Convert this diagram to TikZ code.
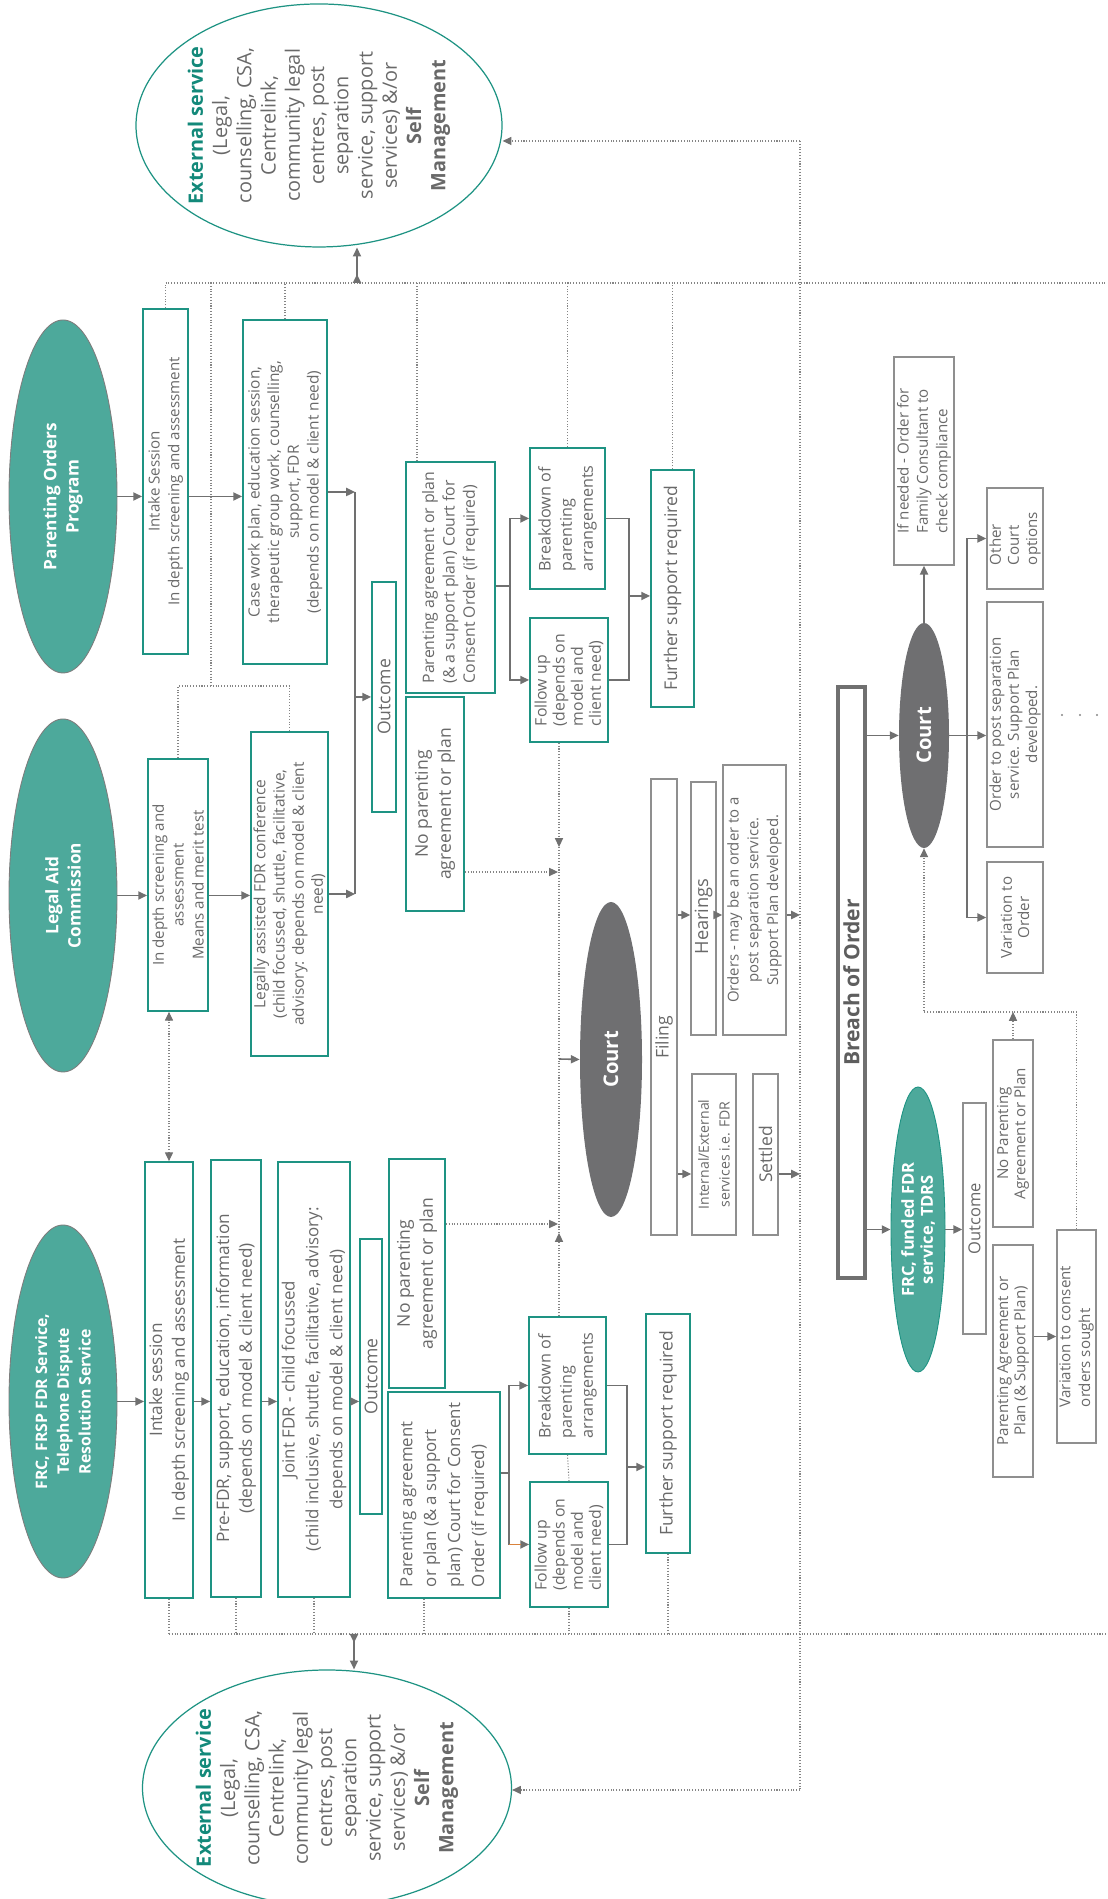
\documentclass[tikz,border=0pt]{standalone}
\usepackage{fontspec}
\setmainfont{Open Sans}
\usetikzlibrary{shapes.geometric, arrows.meta}

\definecolor{tealline}{HTML}{1E9383}
\definecolor{tealfill}{HTML}{4DA99B}
\definecolor{tealtext}{HTML}{13897A}
\definecolor{txtgray}{HTML}{696969}
\definecolor{linegray}{HTML}{707070}
\definecolor{dotgray}{HTML}{858585}
\definecolor{boxgray}{HTML}{8F8F8F}
\definecolor{courtgray}{HTML}{6F6F71}
\definecolor{rimgray}{HTML}{7D7D7D}
\definecolor{breachgray}{HTML}{5E5E5E}
\definecolor{slip}{HTML}{D9823B}

\tikzset{
  >={Triangle[length=5pt,width=4.6pt,color=linegray]},
  dims/.style args={#1x#2}{minimum width=#1*0.02cm, minimum height=#2*0.02cm},
  fs/.style 2 args={font=\fontsize{#1}{#2}\selectfont},
  tbox/.style={draw=tealline, line width=1pt, text=txtgray, align=center, inner sep=0pt},
  gbox/.style={tbox, draw=boxgray, line width=0.9pt},
  svc/.style={ellipse, fill=tealfill, draw=rimgray, line width=0.5pt, text=white, align=center,
    inner sep=0pt, dims=353x108, font=\bfseries\fontsize{9.8}{12.6}\selectfont},
  extsvc/.style={ellipse, draw=tealline, line width=0.7pt, text=txtgray, align=center,
    inner sep=-16pt, fs={11.3}{13.8}},
  courtell/.style={ellipse, fill=courtgray, text=white, inner sep=0pt,
    font=\bfseries\fontsize{11.5}{14}\selectfont},
  conn/.style={draw=linegray, line width=0.9pt},
  arr/.style={conn, ->},
  dot/.style={draw=dotgray, densely dotted, line width=0.6pt},
  dotarr/.style={dot, ->},
}

\begin{document}
\begin{tikzpicture}[x=0.02cm, y=-0.02cm, rotate=90, transform shape]
\useasboundingbox (0,0) rectangle (1899,1107);

% outside services
\node[extsvc, dims=243x366] (exttop) at (1773.5,319) {\textcolor{tealtext}{\textbf{External service}}\\(Legal,\\counselling, CSA,\\Centrelink,\\community legal\\centres, post\\separation\\service, support\\services) \&/or\\\textbf{Self}\\\textbf{Management}};
\node[extsvc, dims=236x369] (extbot) at (111,327) {\textcolor{tealtext}{\textbf{External service}}\\(Legal,\\counselling, CSA,\\Centrelink,\\community legal\\centres, post\\separation\\service, support\\services) \&/or\\\textbf{Self}\\\textbf{Management}};

% entry services
\node[svc] (poell) at (1402.5,63) {Parenting Orders\\Program};
\node[svc] (lacell) at (1003.5,63) {Legal Aid\\Commission};
\node[svc, font=\bfseries\fontsize{9}{12.4}\selectfont] (frcell) at (497.5,63) {FRC, FRSP FDR Service,\\Telephone Dispute\\Resolution Service};

% intake
\node[tbox, dims=345x45, fs={8.6}{11.3}] (pointake) at (1417.5,165.5) {Intake Session\\In depth screening and assessment};
\node[tbox, dims=252x60, fs={8.6}{11.3}] (lacint) at (1014,178) {In depth screening and\\assessment\\Means and merit test};
\node[tbox, dims=436x48, fs={9.8}{13}] (frcint) at (519,169) {Intake session\\In depth screening and assessment};

% service work
\node[tbox, dims=344x84, fs={8.8}{11.2}] (pocase) at (1407,285) {Case work plan, education session,\\therapeutic group work, counselling,\\support, FDR\\(depends on model \& client need)};
\node[tbox, dims=324x77, fs={8.8}{10.9}] (lacfdr) at (1005,289.5) {Legally assisted FDR conference\\(child focussed, shuttle, facilitative,\\advisory: depends on model \& client\\need)};
\node[tbox, dims=437x50, fs={9.8}{13}] (frcpre) at (520.5,236) {Pre-FDR, support, education, information\\(depends on model \& client need)};
\node[tbox, dims=435x72, fs={9.6}{13.6}] (frcjoint) at (519.5,314) {Joint FDR - child focussed\\(child inclusive, shuttle, facilitative, advisory:\\depends on model \& client need)};

% outcomes
\node[tbox, dims=230x24, fs={10}{12}] (poout) at (1202,384) {Outcome};
\node[tbox, dims=275x22, fs={10}{12}] (frcout) at (522.5,371) {Outcome};
\node[tbox, dims=231x89, fs={9}{11.6}, align=left] (poagree) at (1321.5,450.5) {Parenting agreement or plan\\(\& a support plan) Court for\\Consent Order (if required)};
\node[tbox, dims=214x58, fs={10}{13}] (lacno) at (1095,435) {No parenting\\agreement or plan};
\node[tbox, dims=229x56, fs={10}{13}] (frcno) at (625.5,417) {No parenting\\agreement or plan};
\node[tbox, dims=206x112, fs={9.6}{13.6}, align=left] (frcagree) at (404,444) {Parenting agreement\\or plan (\& a support\\plan) Court for Consent\\Order (if required)};

\node[tbox, dims=141x75, fs={9.2}{12}, align=left] (pobreak) at (1380.5,567.5) {Breakdown of\\parenting\\arrangements};
\node[tbox, dims=124x78, fs={9}{10.3}, align=left] (pofollow) at (1219,569) {Follow up\\(depends on\\model and\\client need)};
\node[tbox, dims=237x43, fs={10}{12}] (pofurther) at (1310.5,672.5) {Further support required};
\node[tbox, dims=137x77, fs={9.2}{12}, align=left] (frcbreak) at (513.5,567.5) {Breakdown of\\parenting\\arrangements};
\node[tbox, dims=125x78, fs={9}{10.3}, align=left] (frcfollow) at (354.5,569) {Follow up\\(depends on\\model and\\client need)};
\node[tbox, dims=239x44, fs={10}{12}] (frcfurther) at (465.5,668) {Further support required};

% court
\node[courtell, dims=315x62] (court) at (839.5,611) {Court};
\node[gbox, dims=456x26, fs={10}{12}] (filing) at (892,664) {Filing\hspace*{1.22cm}};
\node[gbox, dims=253x25, fs={10.4}{12}] (hearings) at (990.5,703.5) {Hearings\hspace*{0.32cm}};
\node[gbox, dims=270x63, fs={8.5}{11.3}] (orders) at (999,754.5) {Orders - may be an order to a\\post separation service.\\Support Plan developed.};
\node[gbox, dims=161x44, fs={8}{11.9}] (internal) at (744.5,714) {Internal/External\\services i.e. FDR};
\node[gbox, dims=161x25, fs={10}{12}] (settled) at (744.5,765.5) {Settled};

% breach
\node[gbox, draw=linegray, line width=2.2pt, dims=591x27, text=breachgray, font=\bfseries\fontsize{12}{14}\selectfont] (breach) at (916.5,851.5) {Breach of Order};
\node[courtell, dims=225x50] (court2) at (1163.5,924) {Court};
\node[gbox, dims=208x60, fs={8.6}{11}, align=left] (ifneeded) at (1438,924) {If needed - Order for\\Family Consultant to\\check compliance};
\node[gbox, dims=101x56, fs={8.6}{10.3}, align=left] (other) at (1360.5,1015) {Other\\Court\\options};
\node[gbox, dims=245x56, fs={8.6}{10.3}] (orderpost) at (1174.5,1015) {Order to post separation\\service. Support Plan\\developed.};
\node[gbox, dims=111x56, fs={8.6}{9.8}] (variation) at (981.5,1015) {Variation to\\Order};
\node[svc, draw=tealline, dims=285x54, font=\bfseries\fontsize{9.4}{10.8}\selectfont] (frcfund) at (669.5,918) {FRC, funded FDR\\service, TDRS};
\node[gbox, dims=231x23, fs={9.4}{12}] (frcout2) at (680.5,974.5) {Outcome};
\node[gbox, dims=187x40, fs={8.6}{9.7}] (nopa) at (765.5,1013) {No Parenting\\Agreement or Plan};
\node[gbox, dims=232x40, fs={8.6}{9.7}] (paplan) at (538,1013) {Parenting Agreement or\\Plan (\& Support Plan)};
\node[gbox, dims=213x39, fs={8.6}{11.3}, align=left] (varcons) at (562.5,1076.5) {Variation to consent\\orders sought};

% junctions
\coordinate (ttrunk) at (1616,0);
\coordinate (ttrunkend) at (1616,1107);
\coordinate (btrunk) at (265,0);
\coordinate (btrunkend) at (265,1107);
\coordinate (tsv) at (1616,357);
\coordinate (bsv) at (265,354);
\coordinate (lacj) at (1213,211);
\coordinate (loopR) at (1758,800);
\coordinate (loopL) at (109,800);
\coordinate (obus) at (1200,355);
\coordinate (posplit) at (1313,510);
\coordinate (pomid) at (1303,629);
\coordinate (frcsplit) at (426,509);
\coordinate (frcmid) at (432,627);
\coordinate (cj) at (840,559);
\coordinate (cjtop) at (1052,559);
\coordinate (cjbot) at (666,559);
\coordinate (lacin) at (1027,558);
\coordinate (frcin) at (675,558);
\coordinate (courtrow) at (984,0);
\coordinate (setrow) at (725,0);
\coordinate (optj) at (1163.5,967);
\coordinate (varj) at (887,1076.5);

% dotted links to outside services
\draw[dot] (pointake.east -| ttrunk) -- (ttrunkend);
\draw[dot] (frcint.west -| btrunk) -- (btrunkend);
\draw[{>}-{>}, conn] (tsv) -- (exttop.west |- tsv);
\draw[{>}-{>}, conn] (bsv) -- (extbot.east |- bsv);
\draw[dot] (pointake.east) -- (pointake.east -| ttrunk);
\draw[dot] (pocase.east) -- (pocase.east -| ttrunk);
\draw[dot] ([yshift=0.67cm]poagree.east) -- ([yshift=0.67cm]poagree.east -| ttrunk);
\draw[dot] (pobreak.east) -- (pobreak.east -| ttrunk);
\draw[dot] (pofurther.east) -- (pofurther.east -| ttrunk);
\draw[dot] (lacj -| ttrunk) -- (lacj);
\draw[dot] (lacint.east) -- (lacint.east -| lacj) -- (lacfdr.east -| lacj) -- (lacfdr.east);
\draw[dot] (frcint.west) -- (frcint.west -| btrunk);
\draw[dot] (frcpre.west) -- (frcpre.west -| btrunk);
\draw[dot] (frcjoint.west) -- (frcjoint.west -| btrunk);
\draw[dot] ([yshift=0.4cm]frcagree.west) -- ([yshift=0.4cm]frcagree.west -| btrunk);
\draw[dot] (frcfollow.west) -- (frcfollow.west -| btrunk);
\draw[dot] (frcfurther.west) -- (frcfurther.west -| btrunk);
\draw[dot] (frcbreak.west) -- (frcfollow.east);
\draw[dot] (loopR) -- (loopL);
\draw[dotarr] (loopR) -- (loopR |- exttop.south);
\draw[dotarr] (loopL) -- (loopL |- extbot.south);
\draw[dotarr, <->] (frcint.east) -- (frcint.east -| lacint.west);

% entry chains
\draw[arr] (poell.south) -- (poell.south |- pointake.north);
\draw[arr] (poell.south |- pointake.south) -- (poell.south |- pocase.north);
\draw[arr] (lacell.south) -- (lacell.south |- lacint.north);
\draw[arr] (lacell.south |- lacint.south) -- (lacell.south |- lacfdr.north);
\draw[arr] (frcell.south) -- (frcell.south |- frcint.north);
\draw[arr] (frcell.south |- frcint.south) -- (frcell.south |- frcpre.north);
\draw[arr] (frcell.south |- frcpre.south) -- (frcell.south |- frcjoint.north);
\draw[arr] (frcell.south |- frcjoint.south) -- (frcell.south |- frcout.north);

\draw[conn] (pocase.south |- obus) -- (lacfdr.south |- obus);
\draw[arr] (pocase.south) -- (pocase.south |- obus);
\draw[arr] (lacfdr.south) -- (lacfdr.south |- obus);
\draw[arr] (poout.north |- obus) -- (poout.north);

% agreement splits
\draw[conn] (poagree.south -| posplit) -- (posplit);
\draw[arr] (posplit) -| (pobreak.north);
\draw[arr] (posplit) -| (pofollow.north);
\draw[conn] (pobreak.south) |- (pomid) -| (pofollow.south);
\draw[arr] (pomid) -- (pomid |- pofurther.north);

\draw[conn] (frcagree.south -| frcsplit) -- (frcsplit);
\draw[arr] (frcsplit) -| (frcbreak.north);
\draw[arr] (frcsplit) -| (frcfollow.north);
\draw[draw=slip, line width=0.9pt] (frcsplit -| frcfollow.north) -- ++(0,12);
\draw[conn] (frcbreak.south) |- (frcmid) -| (frcfollow.south);
\draw[arr] (frcmid) -- (frcmid |- frcfurther.north);

% into court
\draw[dotarr] (pofollow.west |- cj) -- (cjtop);
\draw[dot] (cjtop) -- (cjbot);
\draw[dotarr] (frcbreak.east |- cj) -- (cjbot);
\draw[dotarr] (lacno.south -| lacin) -- (lacin);
\draw[dotarr] (frcno.south -| frcin) -- (frcin);
\draw[arr] (cj) -- (court.north);

\draw[arr] (filing.south -| courtrow) -- (hearings.north -| courtrow);
\draw[arr] (hearings.south -| courtrow) -- (orders.north -| courtrow);
\draw[arr] (orders.south -| courtrow) -- (loopR -| courtrow);
\draw[arr] (filing.south -| setrow) -- (internal.north -| setrow);
\draw[arr] (settled.south -| setrow) -- (loopR -| setrow);

% breach of order
\draw[arr] (breach.south -| court2.north) -- (court2.north);
\draw[arr] (breach.south -| frcfund.north) -- (frcfund.north);
\draw[arr] (court2.east) -- (ifneeded.west);
\draw[arr] (court2.south) -- (court2.south |- orderpost.north);
\draw[arr] (optj) -| (other.north);
\draw[arr] (optj) -| (variation.north);
\draw[arr] (frcfund.south) -- (frcfund.south |- frcout2.north);
\draw[arr] (paplan.south -| varcons.north) -- (varcons.north);
\draw[dotarr] (varcons.east) -- (varj) |- (court2.west);
\draw[dotarr] (nopa.east) -- (nopa.east -| varj);

\foreach \d in {1062,1080,1097}
  \fill[dotgray] (1184,\d) circle (0.6pt);
\end{tikzpicture}
\end{document}
